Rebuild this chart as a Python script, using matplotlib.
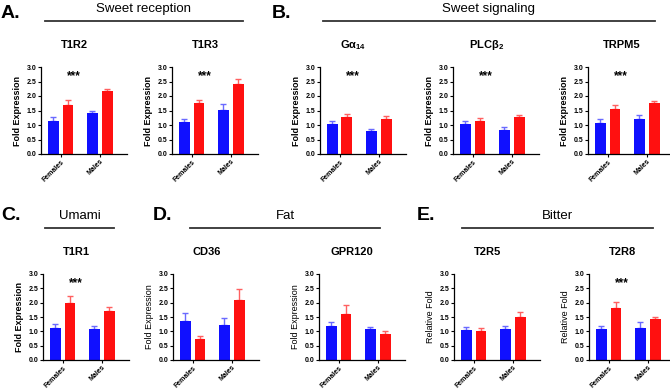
import matplotlib
matplotlib.use("Agg")
import matplotlib.pyplot as plt
import matplotlib.lines as mlines

plt.rcParams['font.family'] = ['Liberation Sans', 'DejaVu Sans']
plt.rcParams['mathtext.fontset'] = 'custom'
plt.rcParams['mathtext.rm'] = 'Liberation Sans'
plt.rcParams['mathtext.bf'] = 'Liberation Sans:bold'

# data
groups = ['Females', 'Males']
genes = ['T1R2', 'T1R3', 'G\u03b1$_{\\mathbf{14}}$', 'PLC\u03b2$_{\\mathbf{2}}$', 'TRPM5',
         'T1R1', 'CD36', 'GPR120', 'T2R5', 'T2R8']
blue_vals = [[1.13, 1.40], [1.10, 1.52], [1.05, 0.80], [1.05, 0.82], [1.08, 1.20],
             [1.12, 1.08], [1.37, 1.22], [1.17, 1.07], [1.05, 1.07], [1.08, 1.13]]
blue_err = [[0.15, 0.10], [0.12, 0.20], [0.08, 0.07], [0.08, 0.10], [0.12, 0.15],
            [0.13, 0.12], [0.27, 0.25], [0.17, 0.08], [0.10, 0.12], [0.12, 0.18]]
red_vals = [[1.68, 2.17], [1.76, 2.43], [1.28, 1.22], [1.13, 1.27], [1.55, 1.75],
            [2.00, 1.70], [0.75, 2.10], [1.62, 0.92], [1.02, 1.50], [1.80, 1.42]]
red_err = [[0.17, 0.07], [0.10, 0.15], [0.10, 0.08], [0.10, 0.08], [0.13, 0.07],
           [0.22, 0.15], [0.08, 0.38], [0.30, 0.10], [0.10, 0.17], [0.23, 0.08]]
stars = [True, True, True, True, True, True, False, False, False, True]
ylabels = ['Fold Expression'] * 8 + ['Relative Fold'] * 2
ylab_bold = [True] * 6 + [False] * 4

W, H = 670, 389
fig = plt.figure(figsize=(6.7, 3.89), dpi=100)

lefts = [41, 172, 320, 453, 588, 43, 173, 319, 454, 589]
rows = [(67, 154)] * 5 + [(274, 360)] * 5
AW = 86

BLUE, RED = '#1010ff', '#ff1010'
BLUE_E, RED_E = '#6a6aff', '#ff6060'
bw, off = 0.28, 0.19

for i in range(10):
    top, bot = rows[i]
    ax = fig.add_axes([lefts[i] / W, 1 - bot / H, AW / W, (bot - top) / H])
    x = [0, 1]
    xb = [v - off for v in x]
    xr = [v + off for v in x]
    ax.bar(xb, blue_vals[i], width=bw, color=BLUE, zorder=2)
    ax.bar(xr, red_vals[i], width=bw, color=RED, zorder=2)
    ax.errorbar(xb, blue_vals[i], yerr=[[0, 0], blue_err[i]], fmt='none',
                ecolor=BLUE_E, elinewidth=1.0, capsize=2.5, capthick=1.0, zorder=1)
    ax.errorbar(xr, red_vals[i], yerr=[[0, 0], red_err[i]], fmt='none',
                ecolor=RED_E, elinewidth=1.0, capsize=2.5, capthick=1.0, zorder=1)
    ax.set_xlim(-0.5, 1.7)
    ax.set_ylim(0, 3.0)
    ax.set_yticks([0, 0.5, 1.0, 1.5, 2.0, 2.5, 3.0])
    ax.set_yticklabels(['0.0', '0.5', '1.0', '1.5', '2.0', '2.5', '3.0'],
                       fontsize=5, fontweight='bold')
    ax.set_xticks(x)
    ax.set_xticklabels(groups, rotation=45, ha='right', rotation_mode='anchor',
                       fontsize=5, fontweight='bold')
    ax.tick_params(axis='both', length=2, width=0.8, pad=1.5)
    ax.tick_params(axis='x', pad=1)
    for s in ['top', 'right']:
        ax.spines[s].set_visible(False)
    for s in ['left', 'bottom']:
        ax.spines[s].set_linewidth(0.9)
    ax.set_ylabel(ylabels[i], fontsize=6.5,
                  fontweight='bold' if ylab_bold[i] else 'normal', labelpad=3)
    ax.annotate(genes[i], xy=(0.35, 1.0), xycoords=('data', 'axes fraction'),
                xytext=(0, 16), textcoords='offset points', ha='center', va='center',
                fontsize=8, fontweight='bold')
    if stars[i]:
        ax.text(0.35, 2.68, '***', ha='center', va='center', fontsize=8.5,
                fontweight='bold')

# panel letters
for lab, (px, py) in zip(['A.', 'B.', 'C.', 'D.', 'E.'],
                         [(1, 13), (272, 13), (1, 215), (153, 215), (417, 215)]):
    fig.text(px / W, 1 - py / H, lab, fontsize=14, fontweight='bold',
             ha='left', va='center')

# group headers with underline
headers = ['Sweet reception', 'Sweet signaling', 'Umami', 'Fat', 'Bitter']
spans = [(45, 243, 21, 9), (323, 655, 21, 9), (45, 114, 228, 216),
         (190, 380, 228, 216), (462, 653, 228, 216)]
for txt, (x0, x1, ly, ty) in zip(headers, spans):
    fig.add_artist(mlines.Line2D([x0 / W, x1 / W], [1 - ly / H, 1 - ly / H],
                                 color='#333333', linewidth=1.3))
    fig.text((x0 + x1) / 2 / W, 1 - ty / H, txt, fontsize=9.5, ha='center',
             va='center')

fig.savefig('out.png', dpi=100)
